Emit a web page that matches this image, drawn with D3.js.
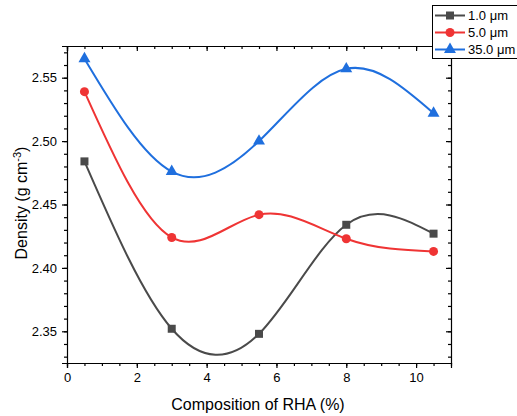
<!DOCTYPE html>
<html>
<head>
<meta charset="utf-8">
<script src="https://cdn.jsdelivr.net/npm/d3@7"></script>
<style>
  body { margin: 0; background: #fff; }
  text { font-family: "Liberation Sans", Arial, sans-serif; fill: #000; }
</style>
</head>
<body>
<div id="chart"></div>
<script>
// composition of RHA (%)
const composition = [0.5, 3, 5.5, 8, 10.5];
// density per particle size (g cm^-3)
const dens1 = [2.484, 2.352, 2.348, 2.434, 2.427];
const dens5 = [2.539, 2.424, 2.442, 2.423, 2.413];
const dens35 = [2.565, 2.476, 2.500, 2.557, 2.522];
const seriesNames = ['1.0 \u03bcm', '5.0 \u03bcm', '35.0 \u03bcm'];
const xTicks = [0, 2, 4, 6, 8, 10];
const yTicks = [2.35, 2.40, 2.45, 2.50, 2.55];

const W = 517, H = 416;
const margin = {left: 67, right: 66, top: 46, bottom: 53};
const iw = W - margin.left - margin.right;
const ih = H - margin.top - margin.bottom;

const series = [
  {name: seriesNames[0], values: dens1, color: '#4a4a4a', shape: d3.symbolSquare, size: 64},
  {name: seriesNames[1], values: dens5, color: '#ef3434', shape: d3.symbolCircle, size: 64},
  {name: seriesNames[2], values: dens35, color: '#1f6fde', shape: d3.symbolTriangle, size: 62}
];

const svg = d3.select('#chart').append('svg')
  .attr('width', W).attr('height', H);

const x = d3.scaleLinear().domain([0, 11]).range([margin.left, margin.left + iw]);
const y = d3.scaleLinear().domain([2.325, 2.575]).range([margin.top + ih, margin.top]);

const minorX = d3.range(0, 11.01, 0.5);
const minorY = d3.range(2.33, 2.575, 0.01);
const font = '"Liberation Sans", Arial, sans-serif';

// bottom axis
svg.append('g')
  .attr('transform', 'translate(0,' + (margin.top + ih) + ')')
  .call(d3.axisBottom(x).tickValues(minorX).tickSize(3).tickFormat(''))
  .call(g => g.select('.domain').remove());
svg.append('g')
  .attr('transform', 'translate(0,' + (margin.top + ih) + ')')
  .call(d3.axisBottom(x).tickValues(xTicks).tickSize(5).tickPadding(5).tickFormat(d3.format('d')))
  .call(g => g.selectAll('text').attr('font-size', 13).style('font-family', font));

// left axis
svg.append('g')
  .attr('transform', 'translate(' + margin.left + ',0)')
  .call(d3.axisLeft(y).tickValues(minorY).tickSize(3).tickFormat(''))
  .call(g => g.select('.domain').remove());
svg.append('g')
  .attr('transform', 'translate(' + margin.left + ',0)')
  .call(d3.axisLeft(y).tickValues(yTicks).tickSize(5).tickPadding(5).tickFormat(d3.format('.2f')))
  .call(g => g.selectAll('text').attr('font-size', 13).style('font-family', font));

// top and right mirror axes, ticks inward
svg.append('g')
  .attr('transform', 'translate(0,' + margin.top + ')')
  .call(d3.axisBottom(x).tickValues(minorX).tickSize(3).tickFormat(''))
  .call(g => g.select('.domain').remove());
svg.append('g')
  .attr('transform', 'translate(0,' + margin.top + ')')
  .call(d3.axisBottom(x).tickValues(xTicks).tickSize(5).tickFormat(''));
svg.append('g')
  .attr('transform', 'translate(' + (margin.left + iw) + ',0)')
  .call(d3.axisLeft(y).tickValues(minorY).tickSize(3).tickFormat(''))
  .call(g => g.select('.domain').remove());
svg.append('g')
  .attr('transform', 'translate(' + (margin.left + iw) + ',0)')
  .call(d3.axisLeft(y).tickValues(yTicks).tickSize(5).tickFormat(''));

svg.selectAll('.domain, .tick line').attr('stroke', '#000').attr('stroke-width', 1.2);

// lines
const line = d3.line()
  .x((d, i) => x(composition[i]))
  .y(d => y(d))
  .curve(d3.curveNatural);

series.forEach(s => {
  svg.append('path')
    .datum(s.values)
    .attr('fill', 'none')
    .attr('stroke', s.color)
    .attr('stroke-width', 2)
    .attr('d', line);
});

series.forEach(s => {
  svg.append('g').selectAll('path')
    .data(s.values)
    .enter().append('path')
    .attr('transform', (d, i) => 'translate(' + x(composition[i]) + ',' + y(d) + ')')
    .attr('d', d3.symbol().type(s.shape).size(s.size))
    .attr('fill', s.color);
});

// axis titles
svg.append('text')
  .attr('x', 258)
  .attr('y', 410)
  .attr('text-anchor', 'middle')
  .attr('font-size', 16)
  .text('Composition of RHA (%)');

const yt = svg.append('text')
  .attr('transform', 'translate(27,203) rotate(-90)')
  .attr('text-anchor', 'middle')
  .attr('font-size', 16);
yt.append('tspan').text('Density (g cm');
yt.append('tspan').attr('dy', -6).attr('font-size', 11).text('-3');
yt.append('tspan').attr('dy', 6).text(')');

// legend
const lg = svg.append('g');
lg.append('rect')
  .attr('x', 432.5).attr('y', 5.5)
  .attr('width', 100).attr('height', 53)
  .attr('fill', '#fff').attr('stroke', '#000').attr('stroke-width', 1);
series.forEach((s, i) => {
  const ly = 15.5 + i * 17;
  lg.append('line')
    .attr('x1', 435).attr('x2', 465).attr('y1', ly).attr('y2', ly)
    .attr('stroke', s.color).attr('stroke-width', 2);
  lg.append('path')
    .attr('transform', 'translate(450,' + ly + ')')
    .attr('d', d3.symbol().type(s.shape).size(s.size))
    .attr('fill', s.color);
  lg.append('text')
    .attr('x', 468).attr('y', ly + 4.5)
    .attr('font-size', 13)
    .text(s.name);
});
</script>
</body>
</html>
